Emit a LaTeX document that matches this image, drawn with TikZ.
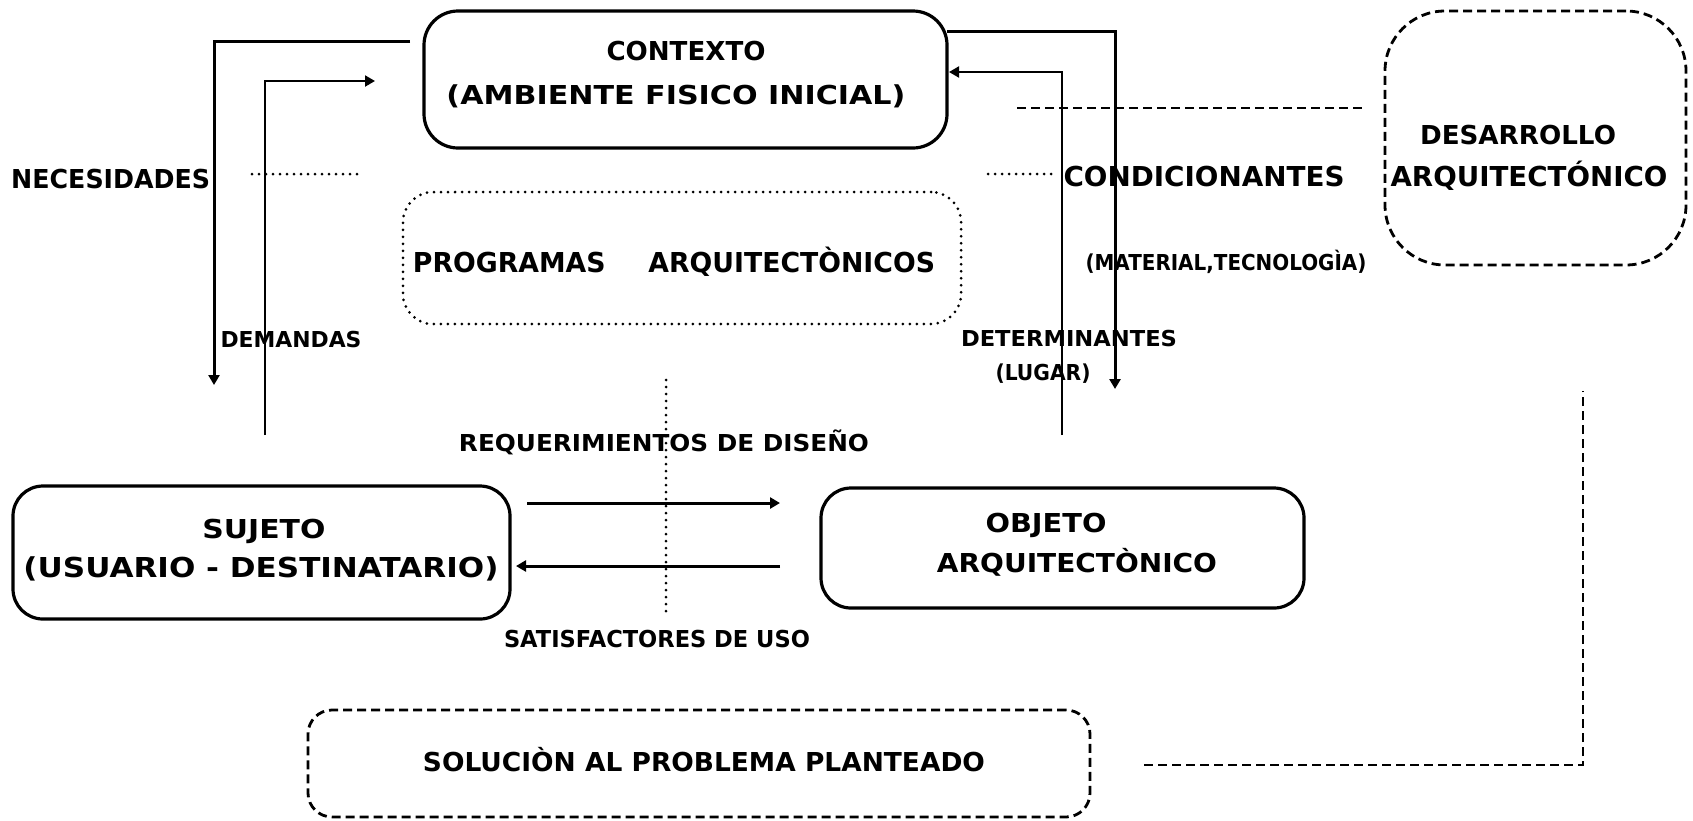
\documentclass[tikz,border=0pt]{standalone}
\usepackage{fontspec}
\setmainfont{DejaVu Sans}
\usetikzlibrary{arrows.meta}
\newcommand{\fitw}[3]{\resizebox{#1pt}{#2pt}{\bfseries\raisebox{0pt}[\fontcharht\font`E][0pt]{#3}}}
\begin{document}
\begin{tikzpicture}[x=1pt,y=-1pt,
  solidbox/.style={draw, line width=3.2pt, rounded corners=34pt, inner sep=0pt},
  dotbox/.style={draw, line width=3pt, line cap=round, dash pattern=on 0pt off 7pt, rounded corners=30pt, inner sep=0pt},
  dashbox/.style={draw, line width=2.8pt, dash pattern=on 9pt off 5pt, inner sep=0pt},
  txt/.style={inner sep=0pt, font=\fontsize{25}{30}\selectfont},
  arr/.style={line width=3pt, -{Triangle[length=10pt,width=11pt]}},
  thinarr/.style={line width=2pt, -{Triangle[length=10pt,width=11pt]}},
  dotline/.style={line width=3pt, line cap=round, dash pattern=on 0pt off 7pt},
  dashline/.style={line width=2.8pt, dash pattern=on 9pt off 5pt}]
\useasboundingbox (0,0) rectangle (1693,820);
\fill[white] (0,0) rectangle (1693,820);

% boxes
\node[solidbox, minimum width=523pt, minimum height=137pt] (ctx) at (685.5,79.5) {};
\node[dotbox, minimum width=558pt, minimum height=132pt] (prog) at (682,258) {};
\node[solidbox, rounded corners=30pt, minimum width=497pt, minimum height=133pt] (suj) at (261.5,552.5) {};
\node[solidbox, rounded corners=30pt, minimum width=483pt, minimum height=120pt] (obj) at (1062.5,548) {};
\node[dashbox, rounded corners=24pt, minimum width=782pt, minimum height=107pt] (sol) at (699,763.5) {};
\node[dashbox, rounded corners=60pt, minimum width=301pt, minimum height=254pt] (des) at (1535.5,138) {};

% texts
\node[txt] (t1) at (686,51) {\fitw{159}{19}{CONTEXTO}};
\node[txt] (t2) at (676,95) {\fitw{459}{19}{(AMBIENTE FISICO INICIAL)}};
\node[txt, anchor=west] (t3) at (11,179) {\fitw{199}{19}{NECESIDADES}};
\node[txt] (t4) at (1204,176) {\fitw{281}{20}{CONDICIONANTES}};
\node[txt] (t5) at (1226,262) {\fitw{281}{16}{(MATERIAL,TECNOLOGÌA)}};
\node[txt] (t6) at (291,339) {\fitw{141}{16}{DEMANDAS}};
\node[txt] (t7) at (1069,338) {\fitw{216}{16}{DETERMINANTES}};
\node[txt] (t8) at (1043,372) {\fitw{95}{16}{(LUGAR)}};
\node[txt] (t9) at (674,262) {\fitw{522}{20}{PROGRAMAS\hspace{1.6em}ARQUITECTÒNICOS}};
\node[txt] (t10) at (664,443) {\fitw{410}{17}{REQUERIMIENTOS DE DISEÑO}};
\node[txt] (t11) at (657,639) {\fitw{306}{17}{SATISFACTORES DE USO}};
\node[txt] (t12) at (264,529) {\fitw{123}{19}{SUJETO}};
\node[txt] (t13) at (261,567) {\fitw{475}{20}{(USUARIO - DESTINATARIO)}};
\node[txt] (t14) at (1046,523) {\fitw{121}{19}{OBJETO}};
\node[txt] (t15) at (1077,563) {\fitw{280}{19}{ARQUITECTÒNICO}};
\node[txt] (t16) at (704,762) {\fitw{562}{19}{SOLUCIÒN AL PROBLEMA PLANTEADO}};
\node[txt] (t17) at (1518,135) {\fitw{196}{19}{DESARROLLO}};
\node[txt] (t18) at (1529,176) {\fitw{277}{20}{ARQUITECTÓNICO}};

% connector end points
\coordinate (c1s) at (410,41);
\coordinate (c1e) at (214,385);
\coordinate (c2s) at (265,435);
\coordinate (c2e) at (375,81);
\coordinate (c3s) at (947,31);
\coordinate (c3e) at (1115,389);
\coordinate (c4s) at (1062,435);
\coordinate (c4e) at (949,72);
\coordinate (d1s) at (252,174);
\coordinate (d1e) at (360,174);
\coordinate (d2s) at (988,174);
\coordinate (d2e) at (1058,174);
\coordinate (d3s) at (666,380);
\coordinate (d3e) at (666,613);
\coordinate (e1s) at (1017,108);
\coordinate (e1e) at (1363,108);
\coordinate (e2s) at (1144,765);
\coordinate (e2e) at (1583,391);
\coordinate (a1s) at (527,503);
\coordinate (a1e) at (780,503);
\coordinate (a2s) at (780,566);
\coordinate (a2e) at (516,566);

% connectors
\draw[arr] (c1s) -| (c1e);
\draw[thinarr] (c2s) |- (c2e);
\draw[arr] (c3s) -| (c3e);
\draw[thinarr] (c4s) |- (c4e);
\draw[dotline] (d1s) -- (d1e);
\draw[dotline] (d2s) -- (d2e);
\draw[dotline] (d3s) -- (d3e);
\draw[dashline] (e1s) -- (e1e);
\draw[dashline] (e2s) -| (e2e);
\draw[arr] (a1s) -- (a1e);
\draw[arr] (a2s) -- (a2e);
\end{tikzpicture}
\end{document}
